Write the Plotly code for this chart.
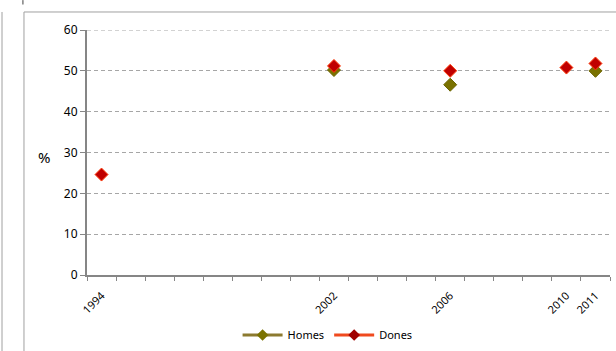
import plotly.graph_objects as go

years = [1994, 2002, 2006, 2010, 2011]
homes = [None, 50.2, 46.6, None, 50.0]
dones = [24.6, 51.2, 50.0, 50.8, 51.8]
y_ticks = [0, 10, 20, 30, 40, 50, 60]

homes_fill = "#7a7200"
homes_edge = "#6b6400"
homes_line = "#8c7a30"
dones_fill = "#c00000"
dones_edge = "#ff4010"
dones_line = "#f04a1e"
grid_col = "#a6a6a6"

fig = go.Figure()
fig.add_trace(go.Scatter(x=years, y=homes, mode="markers", showlegend=False,
                         marker=dict(symbol="diamond", size=10, color=homes_fill,
                                     line=dict(color=homes_edge, width=1))))
fig.add_trace(go.Scatter(x=years, y=dones, mode="markers", showlegend=False,
                         marker=dict(symbol="diamond", size=10, color=dones_fill,
                                     line=dict(color=dones_edge, width=1))))
fig.add_trace(go.Scatter(x=[None], y=[None], mode="lines+markers", name="Homes",
                         line=dict(color=homes_line, width=3),
                         marker=dict(symbol="diamond", size=9, color=homes_fill)))
fig.add_trace(go.Scatter(x=[None], y=[None], mode="lines+markers", name="Dones",
                         line=dict(color=dones_line, width=3),
                         marker=dict(symbol="diamond", size=9, color="#a00000")))

axis_col = "#868686"
fig.update_layout(
    width=616, height=351,
    margin=dict(l=87, r=6, t=30, b=76, autoexpand=False),
    paper_bgcolor="white", plot_bgcolor="white",
    font=dict(family="Noto Sans, DejaVu Sans, sans-serif", color="#000000"),
    showlegend=True,
    legend=dict(orientation="h", x=0.46, xanchor="center", y=-0.245, yanchor="middle",
                font=dict(size=11), itemwidth=40, bgcolor="rgba(0,0,0,0)"),
    xaxis=dict(range=[1993.5, 2011.5], tickmode="array", tickvals=years,
               ticktext=[str(y) for y in years], tickangle=-45, automargin=False,
               tickfont=dict(size=11), ticks="", ticklabelstandoff=8, showgrid=False,
               showline=True, linecolor=axis_col, linewidth=2, zeroline=False,
               minor=dict(ticks="outside", tick0=1993.5, dtick=1, ticklen=4,
                          tickcolor=axis_col, showgrid=False)),
    yaxis=dict(range=[0, 60], tickmode="array", tickvals=y_ticks, automargin=False,
               tickfont=dict(size=12), ticks="outside", ticklen=5, tickcolor=axis_col,
               showgrid=True, gridcolor=grid_col, griddash="4px,3px", gridwidth=1,
               showline=True, linecolor=axis_col, linewidth=2, zeroline=False),
    annotations=[dict(text="%", xref="paper", yref="paper", x=-0.082, y=0.48,
                      showarrow=False, font=dict(size=15), xanchor="center", yanchor="middle")],
    shapes=[
        dict(type="line", xref="paper", yref="y", x0=0, x1=1, y0=y_ticks[-1], y1=y_ticks[-1],
             line=dict(color=grid_col, width=1, dash="4px,3px"), layer="below"),
        dict(type="line", xref="paper", yref="paper", x0=-0.1205, x1=1.2, y0=1.0735, y1=1.0735,
             line=dict(color="#a0a0a0", width=1)),
        dict(type="line", xref="paper", yref="paper", x0=-0.1205, x1=-0.1205, y0=1.0735, y1=-0.5,
             line=dict(color="#a0a0a0", width=1)),
        dict(type="line", xref="paper", yref="paper", x0=-0.1625, x1=-0.1625, y0=1.0735, y1=-0.5,
             line=dict(color="#a0a0a0", width=1)),
        dict(type="line", xref="paper", yref="paper", x0=-0.1225, x1=-0.1225, y0=1.122, y1=1.104,
             line=dict(color="#404040", width=1)),
    ],
)

fig.write_html("out.html", config={"displayModeBar": False},
               post_script="document.body.style.margin='0';document.body.style.overflow='hidden';")
